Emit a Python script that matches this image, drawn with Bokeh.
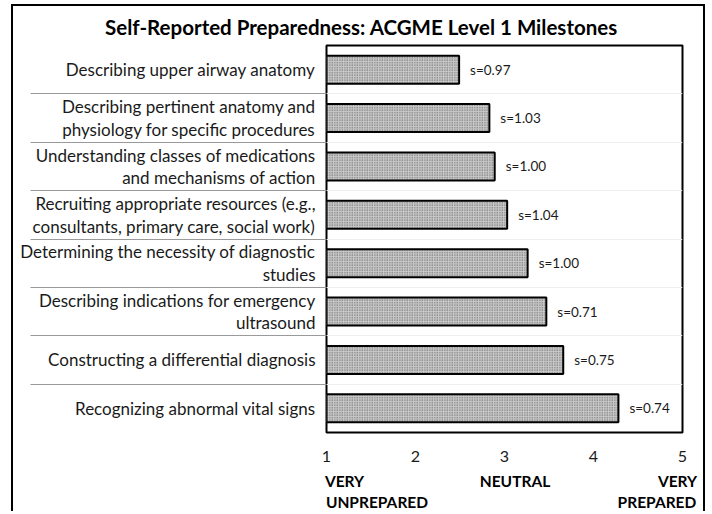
from bokeh.plotting import figure
from bokeh.models import Range1d, FixedTicker, ColumnDataSource, LinearAxis
from bokeh.core.properties import value
from bokeh.embed import file_html
from bokeh.resources import INLINE

title_text = "Self-Reported Preparedness: ACGME Level 1 Milestones"
categories = [
    "Describing upper airway anatomy",
    "Describing pertinent anatomy and\nphysiology for specific procedures",
    "Understanding classes of medications\nand mechanisms of action",
    "Recruiting appropriate resources (e.g.,\nconsultants, primary care, social work)",
    "Determining the necessity of diagnostic\nstudies",
    "Describing indications for emergency\nultrasound",
    "Constructing a differential diagnosis",
    "Recognizing abnormal vital signs",
]
means = [2.49, 2.83, 2.89, 3.03, 3.26, 3.47, 3.66, 4.28]
sds = [0.97, 1.03, 1.00, 1.04, 1.00, 0.71, 0.75, 0.74]
tick_values = [1, 2, 3, 4, 5]
scale_row1 = ["VERY", "NEUTRAL", "VERY"]
scale_row2 = ["UNPREPARED", "PREPARED"]

n = len(categories)
ys = [n - i - 0.5 for i in range(n)]
boundaries = list(range(1, n))

src = ColumnDataSource(dict(
    y=ys, mean=means, sd_text=["s=%.2f" % s for s in sds],
))

SEP_LEN = 296
p = figure(width=694, height=507, x_range=Range1d(1, 5), y_range=Range1d(0, n),
           output_backend="svg", toolbar_location=None,
           min_border_left=313, min_border_right=25, min_border_top=39, min_border_bottom=81)
p.styles = {"margin-left": "11px", "margin-top": "4px",
            "border-top": "2px solid black", "border-left": "2px solid black",
            "border-right": "2px solid black"}
p.outline_line_color = "black"
p.outline_line_width = 2
p.background_fill_color = "white"
p.border_fill_color = "white"

# left axis: category labels (major) and separator lines (long minor ticks)
ya = p.yaxis[0]
ya.ticker = FixedTicker(ticks=ys, minor_ticks=boundaries)
ya.major_label_overrides = {y: c for y, c in zip(ys, categories)}
ya.major_tick_out = 0
ya.major_tick_in = 0
ya.minor_tick_out = SEP_LEN
ya.minor_tick_in = 0
ya.minor_tick_line_color = "#9a9a9a"
ya.minor_tick_line_width = 1
ya.axis_line_color = None
ya.major_label_standoff = 11 - SEP_LEN
ya.major_label_text_font = "Lato"
ya.major_label_text_font_size = "17px"
ya.major_label_text_color = "#1a1a1a"
ya.major_label_text_line_height = 1.08

p.ygrid.ticker = FixedTicker(ticks=boundaries)
p.ygrid.grid_line_color = "#eeeeee"
p.xgrid.grid_line_color = None

def plain_axis(ax, standoff, size, bold=False, color="#1a1a1a"):
    ax.major_tick_out = 0
    ax.major_tick_in = 0
    ax.minor_tick_out = 0
    ax.minor_tick_in = 0
    ax.axis_line_color = None
    ax.major_label_standoff = standoff
    ax.major_label_text_font = "Lato"
    ax.major_label_text_font_size = size
    ax.major_label_text_color = color
    if bold:
        ax.major_label_text_font_style = "bold"

# bottom: numeric scale
xa = p.xaxis[0]
xa.ticker = FixedTicker(ticks=tick_values)
plain_axis(xa, 18, "16px")

# bottom: verbal anchors, row 1 and row 2
row1_pos = [1.202, 3.118, 4.944]
ax1 = LinearAxis(ticker=FixedTicker(ticks=row1_pos),
                 major_label_overrides={x: t for x, t in zip(row1_pos, scale_row1)})
plain_axis(ax1, 7, "15.5px", bold=True, color="black")
p.add_layout(ax1, "below")

row2_pos = [1.567, 4.713]
ax2 = LinearAxis(ticker=FixedTicker(ticks=row2_pos),
                 major_label_overrides={x: t for x, t in zip(row2_pos, scale_row2)})
plain_axis(ax2, 0, "15.5px", bold=True, color="black")
p.add_layout(ax2, "below")

# title drawn as a single-tick axis above the frame
title_pos = [1.393]
ta = LinearAxis(ticker=FixedTicker(ticks=title_pos),
                major_label_overrides={title_pos[0]: title_text})
plain_axis(ta, 7, "20.5px", bold=True, color="black")
p.add_layout(ta, "above")

p.hbar(y="y", left=1, right="mean", height=0.58, source=src,
       fill_color="#c9c9c9", line_color="black", line_width=2,
       hatch_pattern="dot", hatch_color="#555555", hatch_scale=2.5, hatch_weight=0.8)
p.text(x="mean", y="y", text="sd_text", source=src, x_offset=11,
       text_baseline="middle", text_font=value("Lato"), text_font_size="13.5px",
       text_color="#1a1a1a")

open("out.html", "w").write(file_html(p, INLINE))
